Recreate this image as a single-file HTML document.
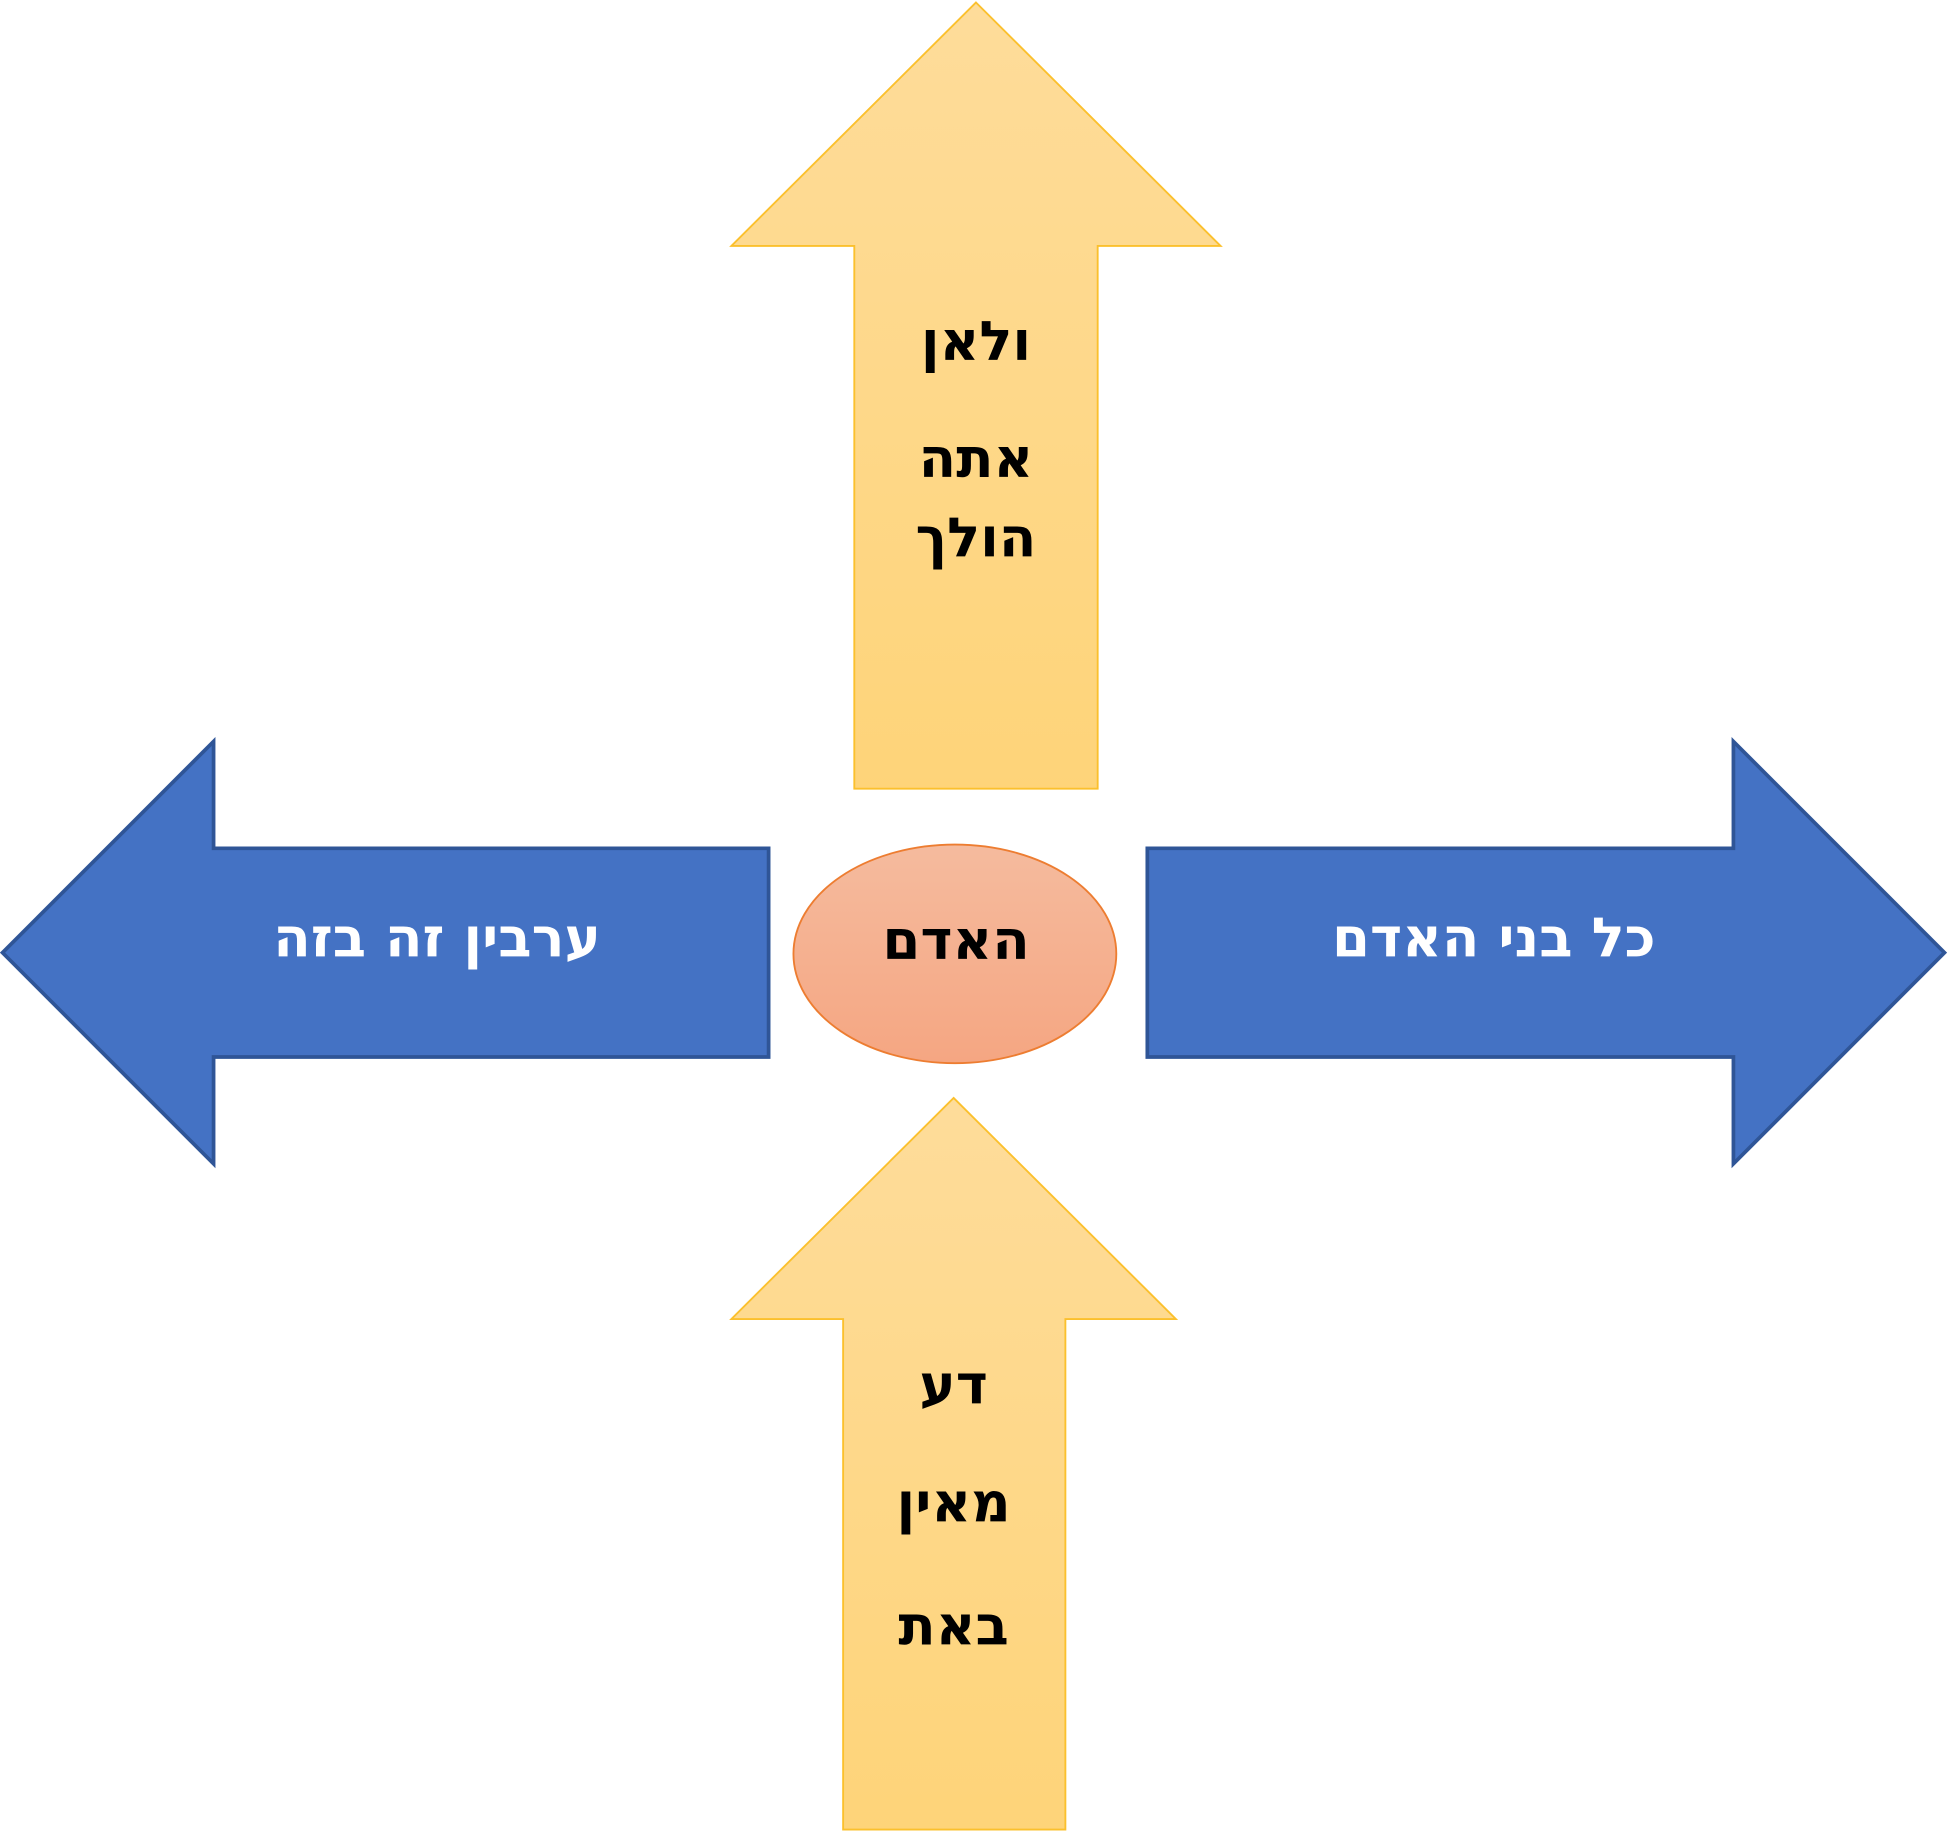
<!DOCTYPE html>
<html><head><meta charset="utf-8"><style>html,body{margin:0;padding:0;background:#fff;}svg{display:block}</style></head>
<body>
<svg width="1947" height="1832" viewBox="0 0 1568 1475" preserveAspectRatio="none" xmlns="http://www.w3.org/2000/svg">
<defs>
<linearGradient id="y" x1="0" y1="0" x2="0" y2="1"><stop offset="0" stop-color="#fedc9a"/><stop offset="1" stop-color="#fed479"/></linearGradient>
<linearGradient id="o" x1="0" y1="0" x2="0" y2="1"><stop offset="0" stop-color="#f5bb9e"/><stop offset="1" stop-color="#f5a682"/></linearGradient>
</defs>
<polygon points="786,2 983,198 884,198 884,635 688,635 688,198 589,198" fill="url(#y)" stroke="#fbc02d" stroke-width="1.5"/>
<polygon points="768,884 947,1062 858,1062 858,1473 679,1473 679,1062 589,1062" fill="url(#y)" stroke="#fbc02d" stroke-width="1.5"/>
<polygon points="2,767 172,597 172,683 619,683 619,851 172,851 172,937" fill="#4472c4" stroke="#2f5597" stroke-width="3"/>
<polygon points="1566,767 1396,597 1396,683 924,683 924,851 1396,851 1396,937" fill="#4472c4" stroke="#2f5597" stroke-width="3"/>
<ellipse cx="769" cy="768" rx="130" ry="88" fill="url(#o)" stroke="#ed7d31" stroke-width="1.5"/>
<g font-family="'DejaVu Sans','Liberation Sans',sans-serif" font-weight="bold" font-size="44" text-anchor="middle" direction="rtl">
<text x="786" y="290" fill="#000">ולאן</text>
<text x="786" y="384" fill="#000">אתה</text>
<text x="786" y="448" fill="#000">הולך</text>
<text x="768" y="1130" fill="#000">דע</text>
<text x="768" y="1225" fill="#000">מאין</text>
<text x="768" y="1324" fill="#000">באת</text>
<text x="770" y="772" fill="#000">האדם</text>
<text x="352" y="770" fill="#fff">ערבין זה בזה</text>
<text x="1203" y="770" fill="#fff">כל בני האדם</text>
</g>
</svg>
</body></html>
